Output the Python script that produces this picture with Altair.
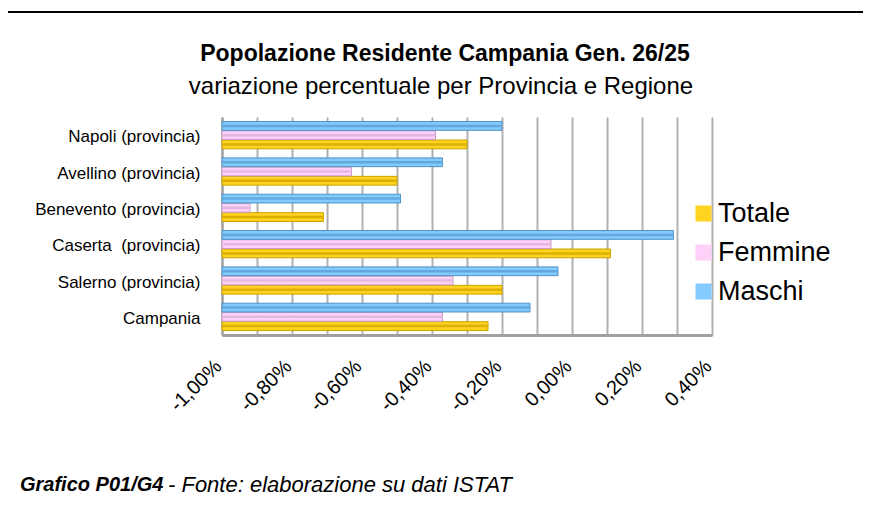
import altair as alt
import pandas as pd

FONT = "Liberation Sans"

categories = ["Napoli (provincia)", "Avellino (provincia)", "Benevento (provincia)",
              "Caserta\u00a0 (provincia)", "Salerno (provincia)", "Campania\u00a0\u00a0"]
series = ["Totale", "Femmine", "Maschi"]
totale = [-0.30, -0.50, -0.71, 0.11, -0.20, -0.24]
femmine = [-0.39, -0.63, -0.92, -0.06, -0.34, -0.37]
maschi = [-0.20, -0.37, -0.49, 0.29, -0.04, -0.12]
x_ticks = [-1.0, -0.9, -0.8, -0.7, -0.6, -0.5, -0.4, -0.3, -0.2, -0.1, 0.0, 0.1, 0.2, 0.3, 0.4]
colors = ["#FFD320", "#FFD1FA", "#83CAFF"]
edge_colors = ["#C9A400", "#C79BC2", "#4E92C4"]
shade_colors = ["#DDB000", "#E6B8E0", "#62A8DC"]

title_text = "Popolazione Residente Campania Gen. 26/25"
subtitle_text = "variazione percentuale per Provincia e Regione"
caption_bold = "Grafico P01/G4"
caption_rest = "- Fonte: elaborazione su dati ISTAT"

rows = []
for i, c in enumerate(categories):
    for s, vals in zip(series, [totale, femmine, maschi]):
        rows.append({"cat": c, "serie": s, "val": vals[i], "base": -1.0})
df = pd.DataFrame(rows)

label_expr = ("abs(round(datum.value*10)) % 2 == 0 ? "
              "replace(replace(format(datum.value, '.2f'), '.', ','), '\u2212', '-') + '%' : ''")

y_enc = alt.Y("cat:N", sort=categories,
              scale=alt.Scale(paddingInner=0.25, paddingOuter=0.125),
              axis=alt.Axis(title=None, ticks=False, grid=False, domainColor="#9a9a9a",
                            domainWidth=2, labelFont=FONT, labelFontSize=17,
                            labelColor="black", labelPadding=22, labelLimit=0,
                            labelOffset=2))
yoff_enc = alt.YOffset("serie:N", sort=["Maschi", "Femmine", "Totale"],
                       scale=alt.Scale(paddingInner=0.05))
x_enc = alt.X("val:Q", scale=alt.Scale(domain=[-1.0, 0.4], nice=False, zero=False),
              axis=alt.Axis(title=None, values=x_ticks, grid=True, gridColor="#b0b0b0",
                            gridWidth=2, ticks=False, domainColor="#a0a0a0", domainWidth=3,
                            labelExpr=label_expr, labelAngle=315, labelAlign="right",
                            labelBaseline="middle", labelPadding=28, labelOffset=-4,
                            labelFont=FONT, labelFontSize=20, labelColor="black",
                            labelOverlap=False))

bars = alt.Chart(df).mark_bar(strokeWidth=1).encode(
    y=y_enc, yOffset=yoff_enc, x=x_enc, x2="base:Q",
    color=alt.Color("serie:N", scale=alt.Scale(domain=series, range=colors),
                    legend=alt.Legend(title=None, orient="none", legendX=468, legendY=83,
                                      symbolType="square", symbolSize=256,
                                      symbolStrokeWidth=0, labelFont=FONT,
                                      labelFontSize=27, labelColor="black",
                                      labelOffset=1, rowPadding=11, padding=0,
                                      labelLimit=0)),
    stroke=alt.Stroke("serie:N", scale=alt.Scale(domain=series, range=edge_colors),
                      legend=None),
)

shade = alt.Chart(df).mark_bar(height=2.5, yOffset=2.8, strokeWidth=0).encode(
    y=y_enc, yOffset=yoff_enc, x=x_enc, x2="base:Q",
    fill=alt.Fill("serie:N", scale=alt.Scale(domain=series, range=shade_colors),
                  legend=None),
)


def text_layer(s, x, y, size, weight="normal", style="normal", align="center"):
    return alt.Chart(pd.DataFrame({"t": [s]})).mark_text(
        font=FONT, fontSize=size, fontWeight=weight, fontStyle=style,
        align=align, baseline="middle", color="black"
    ).encode(text="t:N", x=alt.value(x), y=alt.value(y))


frame_df = pd.DataFrame({"a": [0]})
top_line = alt.Chart(frame_df).mark_rule(color="black", strokeWidth=2).encode(
    x=alt.value(-216), x2=alt.value(649), y=alt.value(-105))
left_line = alt.Chart(frame_df).mark_rule(color="#8a8a8a", strokeWidth=2).encode(
    x=alt.value(-216), y=alt.value(-105), y2=alt.value(388))

chart = alt.layer(
    top_line, left_line, bars, shade,
    text_layer(title_text, 223, -63, 23, weight="bold"),
    text_layer(subtitle_text, 219, -30, 24),
    text_layer(caption_bold, -202, 368, 20, weight="bold", style="italic", align="left"),
    text_layer(caption_rest, -54, 368, 22, style="italic", align="left"),
).properties(
    width=490, height=218,
    autosize=alt.AutoSizeParams(type="none"),
    padding={"left": 214, "top": 109, "right": 151, "bottom": 162},
).configure_view(stroke=None)

chart.save("out.html", embed_options={"renderer": "svg", "actions": False})
